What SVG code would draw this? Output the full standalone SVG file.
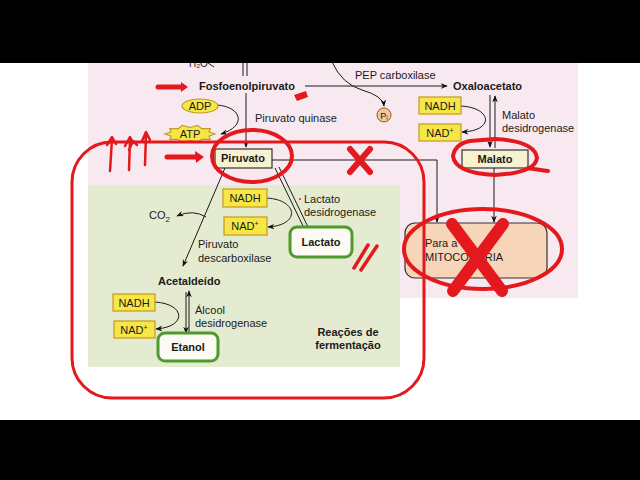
<svg xmlns="http://www.w3.org/2000/svg" width="640" height="480" viewBox="0 0 640 480">
<defs>
<marker id="ah" viewBox="0 0 10 10" refX="9" refY="5" markerWidth="7" markerHeight="7" orient="auto-start-reverse" markerUnits="userSpaceOnUse">
<path d="M0,1 L10,5 L0,9 L3,5 Z" fill="#111"/>
</marker>
<style>
text{font-family:"Liberation Sans","Open Sans",Arial,sans-serif;font-size:11px;fill:#1a1a1a}
.b{font-weight:bold}
.m{text-anchor:middle}
.c{fill:none;stroke:#1a1a1a;stroke-width:1}
.ca{fill:none;stroke:#1a1a1a;stroke-width:1;marker-end:url(#ah)}
.y{fill:#f6e646;stroke:#c49a22;stroke-width:1.2}
.p{fill:#f7f2cf;stroke:#333;stroke-width:1.2}
.g{fill:#fbfbf4;stroke:#4e9a2c;stroke-width:3}
.r{fill:none;stroke:#e3191d;stroke-linecap:round;stroke-linejoin:round}
</style>
</defs>
<rect width="640" height="480" fill="#ffffff"/>
<rect x="88" y="62" width="490" height="236" fill="#f8e9f1"/>
<rect x="88" y="185" width="312" height="182" fill="#e5ebd0"/>
<text x="189" y="67" style="font-size:10px">H₂O</text>
<g id="connectors">
<path class="c" d="M208,63 L214,67"/>
<path class="c" d="M243,62 V76 M247,62 V76"/>
<path class="ca" d="M246,93 V147"/>
<path class="ca" d="M217,105 C242,107 247,126 221,134"/>
<path class="ca" d="M305,86 H447"/>
<path class="ca" d="M332,62 Q342,84 362,90 Q383,96 384,106"/>
<path class="ca" d="M490,95 V147"/>
<path class="ca" d="M495,148 V96"/>
<path class="ca" d="M461,106 C493,108 494,131 462,132"/>
<path class="ca" d="M272,160 H437 V222"/>
<path class="ca" d="M494,168 V222"/>
<path class="ca" d="M225,168 L183,266"/>
<path class="ca" d="M206,217 Q193,209 177,216"/>
<path class="c" d="M275,168 L304,228 M279,167 L308,227"/>
<path class="ca" d="M267,198 C298,200 301,225 268,227"/>
<path class="ca" d="M186,292 V333"/>
<path class="ca" d="M189,333 V291"/>
<path class="ca" d="M155,302 C186,304 187,327 156,329"/>
</g>
<g id="fosfoenolpiruvato"><text class="b" x="199" y="90">Fosfoenolpiruvato</text></g>
<g id="pep-carboxilase"><text x="355" y="79">PEP carboxilase</text></g>
<g id="oxaloacetato"><text class="b" x="453" y="90">Oxaloacetato</text></g>
<g id="pi"><circle cx="384" cy="115" r="7" fill="#f3c79c" stroke="#8a5a2a" stroke-width="1"/><text class="m" x="384" y="119" style="font-size:9px">Pᵢ</text></g>
<g id="adp"><ellipse cx="200" cy="106" rx="18" ry="7" class="y"/><text class="m" x="200" y="110">ADP</text></g>
<g id="atp"><polygon class="y" points="215,134 209,136 210.2,139.3 201.8,139.3 197.7,142.6 190,140.5 182.3,142.6 178.2,139.3 169.8,139.3 171,136 165,134 171,132 169.8,128.7 178.2,128.7 182.3,125.4 190,127.5 197.7,125.4 201.8,128.7 210.2,128.7 209,132"/><text class="m" x="190" y="138">ATP</text></g>
<g id="piruvato-quinase"><text x="255" y="122">Piruvato quinase</text></g>
<g id="piruvato"><rect class="p" x="215" y="149" width="57" height="19"/><text class="b m" x="243" y="162">Piruvato</text></g>
<g id="nadh-malato"><rect class="y" x="419" y="97" width="42" height="17"/><text class="m" x="440" y="110">NADH</text></g>
<g id="nad-malato"><rect class="y" x="419" y="124" width="42" height="17"/><text class="m" x="440" y="137">NAD<tspan dy="-4" style="font-size:7px">+</tspan></text></g>
<g id="malato-desidrogenase"><text x="502" y="119">Malato</text><text x="502" y="132">desidrogenase</text></g>
<g id="malato"><rect class="p" x="462" y="150" width="66" height="18"/><text class="b m" x="495" y="163">Malato</text></g>
<g id="mitocondria"><rect x="405" y="223" width="142" height="55" rx="10" fill="#f6d5b8" stroke="#333" stroke-width="1.2"/><text x="425" y="247">Para a</text><text x="425" y="261">MITOCONDRIA</text></g>
<g id="co2"><text x="149" y="219">CO<tspan dy="3" style="font-size:8px">2</tspan></text></g>
<g id="nadh-lactato"><rect class="y" x="223" y="189" width="44" height="18"/><text class="m" x="245" y="202">NADH</text></g>
<g id="nad-lactato"><rect class="y" x="224" y="217" width="43" height="18"/><text class="m" x="245" y="230">NAD<tspan dy="-4" style="font-size:7px">+</tspan></text></g>
<g id="lactato-desidrogenase"><circle cx="300" cy="199" r="1" fill="#e3191d"/><text x="304" y="203">Lactato</text><text x="304" y="216">desidrogenase</text></g>
<g id="lactato"><rect class="g" x="290" y="227" width="62" height="30" rx="7"/><text class="b m" x="321" y="246">Lactato</text></g>
<g id="piruvato-descarboxilase"><text x="198" y="248">Piruvato</text><text x="198" y="262">descarboxilase</text></g>
<g id="acetaldeido"><text class="b" x="158" y="285">Acetaldeído</text></g>
<g id="nadh-alcool"><rect class="y" x="113" y="294" width="42" height="17"/><text class="m" x="134" y="307">NADH</text></g>
<g id="nad-alcool"><rect class="y" x="114" y="321" width="41" height="17"/><text class="m" x="134" y="334">NAD<tspan dy="-4" style="font-size:7px">+</tspan></text></g>
<g id="alcool-desidrogenase"><text x="195" y="314">Álcool</text><text x="195" y="327">desidrogenase</text></g>
<g id="etanol"><rect class="g" x="158" y="333" width="60" height="28" rx="7"/><text class="b m" x="188" y="351">Etanol</text></g>
<g id="reacoes"><text class="b m" x="348" y="336">Reações de</text><text class="b m" x="348" y="349">fermentação</text></g>
<g id="annotations">
<rect class="r" x="72" y="142" width="352" height="256" rx="40" stroke-width="3"/>
<ellipse class="r" cx="252" cy="156" rx="40" ry="26" stroke-width="4"/>
<path class="r" d="M470,141 Q455,144 453,156 Q455,173 495,175 Q535,173 537,158 Q535,141 495,139 L470,141 M528,168 Q540,170 548,171" stroke-width="4"/>
<ellipse class="r" cx="483" cy="249" rx="79" ry="40" stroke-width="4"/>
<path class="r" d="M452,224 L502,291 M503,224 L453,291" stroke-width="12" stroke-linecap="butt"/>
<path class="r" d="M350,149 L370,172 M370,149 L350,172" stroke-width="6" stroke-linecap="butt"/>
<path class="r" d="M354,268 L368,245 M361,270 L377,246" stroke-width="3.5"/>
<path class="r" d="M158,87 H182" stroke-width="5"/>
<path d="M181,82 L188,87 L181,92 Z" fill="#e3191d"/>
<path class="r" d="M167,157 H197" stroke-width="5"/>
<path d="M195,151 L204,157 L196,163 Z" fill="#e3191d"/>
<path d="M294,95 L306,91 L308,97 L297,101 Z" fill="#e3191d"/>
<path class="r" d="M110,171 L112,139 M107,145 L112,137 L116,144" stroke-width="2.5"/>
<path class="r" d="M129,170 L130,139 M125,146 L130,137 L133,143 M129,150 L133,141 L137,145" stroke-width="2.5"/>
<path class="r" d="M145,165 L146,134 M142,141 L146,132 L150,140" stroke-width="2.5"/>
</g>
<rect x="0" y="0" width="640" height="63" fill="#000"/>
<rect x="0" y="420" width="640" height="60" fill="#000"/>
</svg>
